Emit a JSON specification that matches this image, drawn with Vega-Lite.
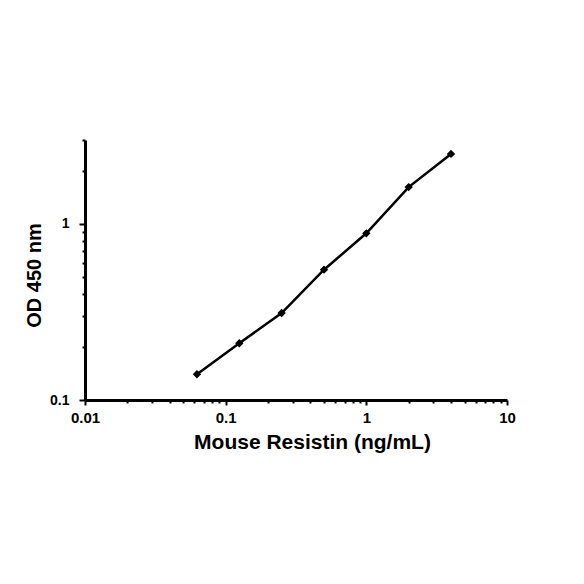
{
  "$schema": "https://vega.github.io/schema/vega-lite/v6.json",
  "autosize": "none",
  "width": 422,
  "height": 260,
  "padding": {"left": 85, "top": 140, "right": 77, "bottom": 184},
  "background": "white",
  "config": {
    "view": {"stroke": null},
    "font": "Liberation Sans",
    "axis": {"grid": false, "domainColor": "black", "tickColor": "black", "labelColor": "black", "titleColor": "black"}
  },
  "data": {"values": [
    {"conc": 0.0625, "od": 0.14},
    {"conc": 0.125, "od": 0.21},
    {"conc": 0.25, "od": 0.312},
    {"conc": 0.5, "od": 0.55},
    {"conc": 1, "od": 0.885},
    {"conc": 2, "od": 1.62},
    {"conc": 4, "od": 2.5}
  ]},
  "layer": [
    {
      "mark": {"type": "line", "color": "black", "strokeWidth": 2.5},
      "encoding": {
        "x": {"field": "conc", "type": "quantitative",
          "scale": {"type": "log", "domain": [0.01, 10], "nice": false},
          "axis": {"orient": "bottom", "values": [0.01, 0.1, 1, 10], "format": "~g", "domainWidth": 3, "tickWidth": 2, "tickSize": 5, "labelFlush": false,
            "labelFont": "Liberation Sans", "labelFontWeight": "bold", "labelFontSize": 15, "labelPadding": 5,
            "title": "Mouse Resistin (ng/mL)", "titleFont": "Liberation Sans", "titleFontWeight": "bold", "titleFontSize": 21, "titlePadding": 6, "titleX": 227}},
        "y": {"field": "od", "type": "quantitative",
          "scale": {"type": "log", "domain": [0.1, 3], "nice": false},
          "axis": {"orient": "left", "values": [0.1, 1], "format": "~g", "domainWidth": 3, "tickWidth": 2, "tickSize": 6, "labelFlush": false,
            "labelFont": "Liberation Sans", "labelFontWeight": "bold", "labelFontSize": 14, "labelPadding": 10,
            "title": "OD 450 nm", "titleFont": "Liberation Sans", "titleFontWeight": "bold", "titleFontSize": 20, "titlePadding": 5, "titleY": 135}}
      }
    },
    {
      "mark": {"type": "point", "shape": "diamond", "filled": true, "color": "black", "size": 70, "opacity": 1},
      "encoding": {
        "x": {"field": "conc", "type": "quantitative",
          "axis": {"orient": "bottom", "values": [0.02, 0.03, 0.04, 0.05, 0.06, 0.07, 0.08, 0.09, 0.2, 0.3, 0.4, 0.5, 0.6, 0.7, 0.8, 0.9, 2, 3, 4, 5, 6, 7, 8, 9], "labels": false, "domain": false, "tickSize": 3, "tickWidth": 2, "title": null}},
        "y": {"field": "od", "type": "quantitative",
          "axis": {"orient": "left", "values": [0.2, 0.3, 0.4, 0.5, 0.6, 0.7, 0.8, 0.9, 2, 3], "labels": false, "domain": false, "tickSize": 3, "tickWidth": 2, "title": null}}
      }
    }
  ],
  "resolve": {"axis": {"x": "independent", "y": "independent"}}
}
